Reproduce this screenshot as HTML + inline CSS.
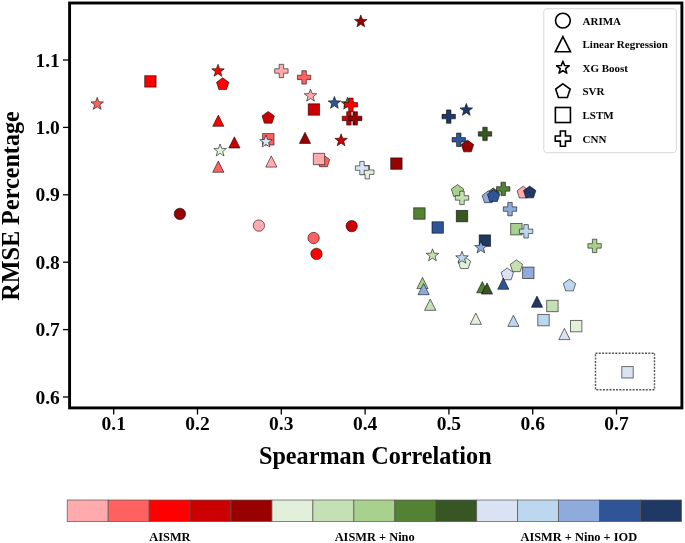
<!DOCTYPE html>
<html><head><meta charset="utf-8"><style>
html,body{margin:0;padding:0;background:#fff;width:685px;height:543px;overflow:hidden}
svg{display:block;filter:blur(0.3px)}
text{font-family:"Liberation Serif", serif;font-weight:bold;fill:#000}
</style></head><body>
<svg width="685" height="543" viewBox="0 0 685 543">
<rect width="685" height="543" fill="#fff"/>

<rect x="595.5" y="353.2" width="59" height="36.6" fill="none" stroke="#555" stroke-width="1.4" stroke-dasharray="2,1.3"/>
<polygon points="97.20,97.40 98.83,101.76 103.48,101.96 99.84,104.86 101.08,109.34 97.20,106.77 93.32,109.34 94.56,104.86 90.92,101.96 95.57,101.76" fill="#ff6161" stroke="rgba(0,0,0,0.62)" stroke-width="0.9" stroke-linejoin="round"/>
<rect x="144.70" y="75.70" width="11.40" height="11.40" fill="#ff0000" stroke="rgba(0,0,0,0.62)" stroke-width="0.9"/>
<circle cx="179.90" cy="213.90" r="5.70" fill="#990000" stroke="rgba(0,0,0,0.62)" stroke-width="0.9"/>
<polygon points="218.00,64.30 219.63,68.66 224.28,68.86 220.64,71.76 221.88,76.24 218.00,73.67 214.12,76.24 215.36,71.76 211.72,68.86 216.37,68.66" fill="#ff0000" stroke="rgba(0,0,0,0.62)" stroke-width="0.9" stroke-linejoin="round"/>
<polygon points="222.70,77.80 228.88,82.29 226.52,89.56 218.88,89.56 216.52,82.29" fill="#ff0000" stroke="rgba(0,0,0,0.62)" stroke-width="0.9"/>
<polygon points="279.17,64.30 283.63,64.30 283.63,68.77 288.10,68.77 288.10,73.23 283.63,73.23 283.63,77.70 279.17,77.70 279.17,73.23 274.70,73.23 274.70,68.77 279.17,68.77" fill="#ffabae" stroke="rgba(0,0,0,0.62)" stroke-width="0.9"/>
<polygon points="301.87,70.70 306.33,70.70 306.33,75.17 310.80,75.17 310.80,79.63 306.33,79.63 306.33,84.10 301.87,84.10 301.87,79.63 297.40,79.63 297.40,75.17 301.87,75.17" fill="#ff6161" stroke="rgba(0,0,0,0.62)" stroke-width="0.9"/>
<polygon points="310.50,89.20 312.13,93.56 316.78,93.76 313.14,96.66 314.38,101.14 310.50,98.57 306.62,101.14 307.86,96.66 304.22,93.76 308.87,93.56" fill="#ffabae" stroke="rgba(0,0,0,0.62)" stroke-width="0.9" stroke-linejoin="round"/>
<rect x="308.20" y="103.80" width="11.40" height="11.40" fill="#cc0000" stroke="rgba(0,0,0,0.62)" stroke-width="0.9"/>
<polygon points="360.80,14.90 362.43,19.26 367.08,19.46 363.44,22.36 364.68,26.84 360.80,24.27 356.92,26.84 358.16,22.36 354.52,19.46 359.17,19.26" fill="#990000" stroke="rgba(0,0,0,0.62)" stroke-width="0.9" stroke-linejoin="round"/>
<polygon points="218.30,115.10 223.90,126.30 212.70,126.30" fill="#ff0000" stroke="rgba(0,0,0,0.62)" stroke-width="0.9" stroke-linejoin="miter"/>
<polygon points="234.40,136.80 240.00,148.00 228.80,148.00" fill="#cc0000" stroke="rgba(0,0,0,0.62)" stroke-width="0.9" stroke-linejoin="miter"/>
<polygon points="218.30,161.10 223.90,172.30 212.70,172.30" fill="#ff6161" stroke="rgba(0,0,0,0.62)" stroke-width="0.9" stroke-linejoin="miter"/>
<polygon points="268.20,111.40 274.38,115.89 272.02,123.16 264.38,123.16 262.02,115.89" fill="#cc0000" stroke="rgba(0,0,0,0.62)" stroke-width="0.9"/>
<rect x="262.60" y="133.60" width="11.40" height="11.40" fill="#ff6161" stroke="rgba(0,0,0,0.62)" stroke-width="0.9"/>
<polygon points="271.30,155.90 276.90,167.10 265.70,167.10" fill="#ffabae" stroke="rgba(0,0,0,0.62)" stroke-width="0.9" stroke-linejoin="miter"/>
<polygon points="305.00,132.20 310.60,143.40 299.40,143.40" fill="#990000" stroke="rgba(0,0,0,0.62)" stroke-width="0.9" stroke-linejoin="miter"/>
<polygon points="341.10,133.80 342.73,138.16 347.38,138.36 343.74,141.26 344.98,145.74 341.10,143.17 337.22,145.74 338.46,141.26 334.82,138.36 339.47,138.16" fill="#cc0000" stroke="rgba(0,0,0,0.62)" stroke-width="0.9" stroke-linejoin="round"/>
<polygon points="323.50,155.00 329.68,159.49 327.32,166.76 319.68,166.76 317.32,159.49" fill="#ff6161" stroke="rgba(0,0,0,0.62)" stroke-width="0.9"/>
<rect x="313.30" y="153.30" width="11.40" height="11.40" fill="#ffabae" stroke="rgba(0,0,0,0.62)" stroke-width="0.9"/>
<rect x="390.70" y="157.90" width="11.40" height="11.40" fill="#990000" stroke="rgba(0,0,0,0.62)" stroke-width="0.9"/>
<circle cx="258.90" cy="225.60" r="5.70" fill="#ffabae" stroke="rgba(0,0,0,0.62)" stroke-width="0.9"/>
<circle cx="313.60" cy="238.00" r="5.70" fill="#ff6161" stroke="rgba(0,0,0,0.62)" stroke-width="0.9"/>
<circle cx="316.50" cy="253.90" r="5.70" fill="#ff0000" stroke="rgba(0,0,0,0.62)" stroke-width="0.9"/>
<circle cx="351.70" cy="226.10" r="5.70" fill="#cc0000" stroke="rgba(0,0,0,0.62)" stroke-width="0.9"/>
<polygon points="220.10,144.00 221.73,148.36 226.38,148.56 222.74,151.46 223.98,155.94 220.10,153.37 216.22,155.94 217.46,151.46 213.82,148.56 218.47,148.36" fill="#e2efda" stroke="rgba(0,0,0,0.62)" stroke-width="0.9" stroke-linejoin="round"/>
<polygon points="266.00,135.10 267.63,139.46 272.28,139.66 268.64,142.56 269.88,147.04 266.00,144.47 262.12,147.04 263.36,142.56 259.72,139.66 264.37,139.46" fill="#dae3f3" stroke="rgba(0,0,0,0.62)" stroke-width="0.9" stroke-linejoin="round"/>
<polygon points="334.40,96.40 336.03,100.76 340.68,100.96 337.04,103.86 338.28,108.34 334.40,105.77 330.52,108.34 331.76,103.86 328.12,100.96 332.77,100.76" fill="#2f5597" stroke="rgba(0,0,0,0.62)" stroke-width="0.9" stroke-linejoin="round"/>
<polygon points="347.50,97.20 349.13,101.56 353.78,101.76 350.14,104.66 351.38,109.14 347.50,106.57 343.62,109.14 344.86,104.66 341.22,101.76 345.87,101.56" fill="#548235" stroke="rgba(0,0,0,0.62)" stroke-width="0.9" stroke-linejoin="round"/>
<polygon points="348.67,98.10 353.13,98.10 353.13,102.57 357.60,102.57 357.60,107.03 353.13,107.03 353.13,111.50 348.67,111.50 348.67,107.03 344.20,107.03 344.20,102.57 348.67,102.57" fill="#ff0000" stroke="rgba(0,0,0,0.62)" stroke-width="0.9"/>
<polygon points="346.67,111.70 351.13,111.70 351.13,116.17 355.60,116.17 355.60,120.63 351.13,120.63 351.13,125.10 346.67,125.10 346.67,120.63 342.20,120.63 342.20,116.17 346.67,116.17" fill="#cc0000" stroke="rgba(0,0,0,0.62)" stroke-width="0.9"/>
<polygon points="352.97,111.70 357.43,111.70 357.43,116.17 361.90,116.17 361.90,120.63 357.43,120.63 357.43,125.10 352.97,125.10 352.97,120.63 348.50,120.63 348.50,116.17 352.97,116.17" fill="#990000" stroke="rgba(0,0,0,0.62)" stroke-width="0.9"/>
<polygon points="365.07,165.50 369.53,165.50 369.53,169.97 374.00,169.97 374.00,174.43 369.53,174.43 369.53,178.90 365.07,178.90 365.07,174.43 360.60,174.43 360.60,169.97 365.07,169.97" fill="#e2efda" stroke="rgba(0,0,0,0.62)" stroke-width="0.9"/>
<polygon points="359.77,161.40 364.23,161.40 364.23,165.87 368.70,165.87 368.70,170.33 364.23,170.33 364.23,174.80 359.77,174.80 359.77,170.33 355.30,170.33 355.30,165.87 359.77,165.87" fill="#dae3f3" stroke="rgba(0,0,0,0.62)" stroke-width="0.9"/>
<polygon points="446.47,109.90 450.93,109.90 450.93,114.37 455.40,114.37 455.40,118.83 450.93,118.83 450.93,123.30 446.47,123.30 446.47,118.83 442.00,118.83 442.00,114.37 446.47,114.37" fill="#203864" stroke="rgba(0,0,0,0.62)" stroke-width="0.9"/>
<polygon points="466.30,103.40 467.93,107.76 472.58,107.96 468.94,110.86 470.18,115.34 466.30,112.77 462.42,115.34 463.66,110.86 460.02,107.96 464.67,107.76" fill="#203864" stroke="rgba(0,0,0,0.62)" stroke-width="0.9" stroke-linejoin="round"/>
<polygon points="456.57,133.10 461.03,133.10 461.03,137.57 465.50,137.57 465.50,142.03 461.03,142.03 461.03,146.50 456.57,146.50 456.57,142.03 452.10,142.03 452.10,137.57 456.57,137.57" fill="#2f5597" stroke="rgba(0,0,0,0.62)" stroke-width="0.9"/>
<polygon points="467.50,140.10 473.68,144.59 471.32,151.86 463.68,151.86 461.32,144.59" fill="#990000" stroke="rgba(0,0,0,0.62)" stroke-width="0.9"/>
<polygon points="482.77,127.20 487.23,127.20 487.23,131.67 491.70,131.67 491.70,136.13 487.23,136.13 487.23,140.60 482.77,140.60 482.77,136.13 478.30,136.13 478.30,131.67 482.77,131.67" fill="#375623" stroke="rgba(0,0,0,0.62)" stroke-width="0.9"/>
<polygon points="457.50,184.60 463.68,189.09 461.32,196.36 453.68,196.36 451.32,189.09" fill="#a9d18e" stroke="rgba(0,0,0,0.62)" stroke-width="0.9"/>
<polygon points="459.77,191.20 464.23,191.20 464.23,195.67 468.70,195.67 468.70,200.13 464.23,200.13 464.23,204.60 459.77,204.60 459.77,200.13 455.30,200.13 455.30,195.67 459.77,195.67" fill="#c5e0b4" stroke="rgba(0,0,0,0.62)" stroke-width="0.9"/>
<rect x="456.30" y="210.40" width="11.40" height="11.40" fill="#375623" stroke="rgba(0,0,0,0.62)" stroke-width="0.9"/>
<rect x="413.70" y="207.80" width="11.40" height="11.40" fill="#548235" stroke="rgba(0,0,0,0.62)" stroke-width="0.9"/>
<rect x="432.00" y="221.80" width="11.40" height="11.40" fill="#2f5597" stroke="rgba(0,0,0,0.62)" stroke-width="0.9"/>
<polygon points="493.20,188.00 499.38,192.49 497.02,199.76 489.38,199.76 487.02,192.49" fill="#548235" stroke="rgba(0,0,0,0.62)" stroke-width="0.9"/>
<polygon points="488.30,190.90 494.48,195.39 492.12,202.66 484.48,202.66 482.12,195.39" fill="#8faadc" stroke="rgba(0,0,0,0.62)" stroke-width="0.9"/>
<polygon points="493.60,189.70 499.78,194.19 497.42,201.46 489.78,201.46 487.42,194.19" fill="#2f5597" stroke="rgba(0,0,0,0.62)" stroke-width="0.9"/>
<polygon points="500.97,182.20 505.43,182.20 505.43,186.67 509.90,186.67 509.90,191.13 505.43,191.13 505.43,195.60 500.97,195.60 500.97,191.13 496.50,191.13 496.50,186.67 500.97,186.67" fill="#548235" stroke="rgba(0,0,0,0.62)" stroke-width="0.9"/>
<polygon points="523.20,186.20 529.38,190.69 527.02,197.96 519.38,197.96 517.02,190.69" fill="#ffabae" stroke="rgba(0,0,0,0.62)" stroke-width="0.9"/>
<polygon points="529.70,186.10 535.88,190.59 533.52,197.86 525.88,197.86 523.52,190.59" fill="#203864" stroke="rgba(0,0,0,0.62)" stroke-width="0.9"/>
<polygon points="507.77,202.40 512.23,202.40 512.23,206.87 516.70,206.87 516.70,211.33 512.23,211.33 512.23,215.80 507.77,215.80 507.77,211.33 503.30,211.33 503.30,206.87 507.77,206.87" fill="#8faadc" stroke="rgba(0,0,0,0.62)" stroke-width="0.9"/>
<rect x="510.70" y="223.50" width="11.40" height="11.40" fill="#a9d18e" stroke="rgba(0,0,0,0.62)" stroke-width="0.9"/>
<polygon points="523.87,224.60 528.33,224.60 528.33,229.07 532.80,229.07 532.80,233.53 528.33,233.53 528.33,238.00 523.87,238.00 523.87,233.53 519.40,233.53 519.40,229.07 523.87,229.07" fill="#bdd7ee" stroke="rgba(0,0,0,0.62)" stroke-width="0.9"/>
<rect x="479.20" y="234.90" width="11.40" height="11.40" fill="#203864" stroke="rgba(0,0,0,0.62)" stroke-width="0.9"/>
<polygon points="480.90,241.00 482.53,245.36 487.18,245.56 483.54,248.46 484.78,252.94 480.90,250.37 477.02,252.94 478.26,248.46 474.62,245.56 479.27,245.36" fill="#8faadc" stroke="rgba(0,0,0,0.62)" stroke-width="0.9" stroke-linejoin="round"/>
<polygon points="432.50,248.80 434.13,253.16 438.78,253.36 435.14,256.26 436.38,260.74 432.50,258.17 428.62,260.74 429.86,256.26 426.22,253.36 430.87,253.16" fill="#c5e0b4" stroke="rgba(0,0,0,0.62)" stroke-width="0.9" stroke-linejoin="round"/>
<polygon points="464.40,256.80 470.58,261.29 468.22,268.56 460.58,268.56 458.22,261.29" fill="#e2efda" stroke="rgba(0,0,0,0.62)" stroke-width="0.9"/>
<polygon points="462.00,251.30 463.63,255.66 468.28,255.86 464.64,258.76 465.88,263.24 462.00,260.67 458.12,263.24 459.36,258.76 455.72,255.86 460.37,255.66" fill="#bdd7ee" stroke="rgba(0,0,0,0.62)" stroke-width="0.9" stroke-linejoin="round"/>
<polygon points="592.37,239.20 596.83,239.20 596.83,243.67 601.30,243.67 601.30,248.13 596.83,248.13 596.83,252.60 592.37,252.60 592.37,248.13 587.90,248.13 587.90,243.67 592.37,243.67" fill="#a9d18e" stroke="rgba(0,0,0,0.62)" stroke-width="0.9"/>
<polygon points="516.40,259.90 522.58,264.39 520.22,271.66 512.58,271.66 510.22,264.39" fill="#c5e0b4" stroke="rgba(0,0,0,0.62)" stroke-width="0.9"/>
<rect x="522.60" y="267.10" width="11.40" height="11.40" fill="#8faadc" stroke="rgba(0,0,0,0.62)" stroke-width="0.9"/>
<polygon points="507.30,268.00 513.48,272.49 511.12,279.76 503.48,279.76 501.12,272.49" fill="#dae3f3" stroke="rgba(0,0,0,0.62)" stroke-width="0.9"/>
<polygon points="503.30,278.10 508.90,289.30 497.70,289.30" fill="#2f5597" stroke="rgba(0,0,0,0.62)" stroke-width="0.9" stroke-linejoin="miter"/>
<polygon points="569.50,279.10 575.68,283.59 573.32,290.86 565.68,290.86 563.32,283.59" fill="#bdd7ee" stroke="rgba(0,0,0,0.62)" stroke-width="0.9"/>
<polygon points="537.00,296.10 542.60,307.30 531.40,307.30" fill="#203864" stroke="rgba(0,0,0,0.62)" stroke-width="0.9" stroke-linejoin="miter"/>
<rect x="546.70" y="300.30" width="11.40" height="11.40" fill="#c5e0b4" stroke="rgba(0,0,0,0.62)" stroke-width="0.9"/>
<polygon points="513.40,315.20 519.00,326.40 507.80,326.40" fill="#bdd7ee" stroke="rgba(0,0,0,0.62)" stroke-width="0.9" stroke-linejoin="miter"/>
<rect x="537.80" y="314.40" width="11.40" height="11.40" fill="#bdd7ee" stroke="rgba(0,0,0,0.62)" stroke-width="0.9"/>
<rect x="570.50" y="320.40" width="11.40" height="11.40" fill="#e2efda" stroke="rgba(0,0,0,0.62)" stroke-width="0.9"/>
<polygon points="564.40,328.40 570.00,339.60 558.80,339.60" fill="#dae3f3" stroke="rgba(0,0,0,0.62)" stroke-width="0.9" stroke-linejoin="miter"/>
<polygon points="422.50,277.40 428.10,288.60 416.90,288.60" fill="#a9d18e" stroke="rgba(0,0,0,0.62)" stroke-width="0.9" stroke-linejoin="miter"/>
<polygon points="423.60,283.50 429.20,294.70 418.00,294.70" fill="#8faadc" stroke="rgba(0,0,0,0.62)" stroke-width="0.9" stroke-linejoin="miter"/>
<polygon points="430.20,299.10 435.80,310.30 424.60,310.30" fill="#c5e0b4" stroke="rgba(0,0,0,0.62)" stroke-width="0.9" stroke-linejoin="miter"/>
<polygon points="475.80,313.10 481.40,324.30 470.20,324.30" fill="#e2efda" stroke="rgba(0,0,0,0.62)" stroke-width="0.9" stroke-linejoin="miter"/>
<polygon points="482.30,281.60 487.90,292.80 476.70,292.80" fill="#548235" stroke="rgba(0,0,0,0.62)" stroke-width="0.9" stroke-linejoin="miter"/>
<polygon points="487.00,282.90 492.60,294.10 481.40,294.10" fill="#375623" stroke="rgba(0,0,0,0.62)" stroke-width="0.9" stroke-linejoin="miter"/>
<rect x="621.80" y="366.60" width="11.40" height="11.40" fill="#dae3f3" stroke="rgba(0,0,0,0.62)" stroke-width="0.9"/>
<rect x="543.8" y="8.7" width="132.5" height="144" rx="3" fill="#fff" fill-opacity="0.8" stroke="#d8d8d8" stroke-width="1"/>
<circle cx="562.90" cy="20.60" r="7.41" fill="none" stroke="#000" stroke-width="1.6"/>
<text x="582.5" y="24.5" font-size="11">ARIMA</text>
<polygon points="562.90,36.58 570.52,51.82 555.28,51.82" fill="none" stroke="#000" stroke-width="1.6" stroke-linejoin="miter"/>
<text x="582.5" y="48.1" font-size="11">Linear Regression</text>
<polygon points="562.90,61.20 564.53,65.56 569.18,65.76 565.54,68.66 566.78,73.14 562.90,70.57 559.02,73.14 560.26,68.66 556.62,65.76 561.27,65.56" fill="none" stroke="#000" stroke-width="1.6" stroke-linejoin="round"/>
<text x="582.5" y="71.7" font-size="11">XG Boost</text>
<polygon points="562.90,83.80 570.13,89.05 567.37,97.55 558.43,97.55 555.67,89.05" fill="none" stroke="#000" stroke-width="1.6"/>
<text x="582.5" y="95.3" font-size="11">SVR</text>
<rect x="555.38" y="107.48" width="15.05" height="15.05" fill="none" stroke="#000" stroke-width="1.6"/>
<text x="582.5" y="118.9" font-size="11">LSTM</text>
<polygon points="560.35,130.96 565.45,130.96 565.45,136.05 570.54,136.05 570.54,141.15 565.45,141.15 565.45,146.24 560.35,146.24 560.35,141.15 555.26,141.15 555.26,136.05 560.35,136.05" fill="none" stroke="#000" stroke-width="1.6"/>
<text x="582.5" y="142.5" font-size="11">CNN</text>
<rect x="69.6" y="3.0" width="612.3" height="404.9" fill="none" stroke="#000" stroke-width="2.9"/>
<line x1="63" y1="397.00" x2="69" y2="397.00" stroke="#000" stroke-width="1.3"/>
<text x="59.8" y="403.60" font-size="19.5" text-anchor="end">0.6</text>
<line x1="63" y1="329.60" x2="69" y2="329.60" stroke="#000" stroke-width="1.3"/>
<text x="59.8" y="336.20" font-size="19.5" text-anchor="end">0.7</text>
<line x1="63" y1="262.20" x2="69" y2="262.20" stroke="#000" stroke-width="1.3"/>
<text x="59.8" y="268.80" font-size="19.5" text-anchor="end">0.8</text>
<line x1="63" y1="194.80" x2="69" y2="194.80" stroke="#000" stroke-width="1.3"/>
<text x="59.8" y="201.40" font-size="19.5" text-anchor="end">0.9</text>
<line x1="63" y1="127.40" x2="69" y2="127.40" stroke="#000" stroke-width="1.3"/>
<text x="59.8" y="134.00" font-size="19.5" text-anchor="end">1.0</text>
<line x1="63" y1="60.00" x2="69" y2="60.00" stroke="#000" stroke-width="1.3"/>
<text x="59.8" y="66.60" font-size="19.5" text-anchor="end">1.1</text>
<line x1="113.70" y1="409" x2="113.70" y2="414.5" stroke="#000" stroke-width="1.3"/>
<text x="113.70" y="430" font-size="19.5" text-anchor="middle">0.1</text>
<line x1="197.50" y1="409" x2="197.50" y2="414.5" stroke="#000" stroke-width="1.3"/>
<text x="197.50" y="430" font-size="19.5" text-anchor="middle">0.2</text>
<line x1="281.30" y1="409" x2="281.30" y2="414.5" stroke="#000" stroke-width="1.3"/>
<text x="281.30" y="430" font-size="19.5" text-anchor="middle">0.3</text>
<line x1="365.10" y1="409" x2="365.10" y2="414.5" stroke="#000" stroke-width="1.3"/>
<text x="365.10" y="430" font-size="19.5" text-anchor="middle">0.4</text>
<line x1="448.90" y1="409" x2="448.90" y2="414.5" stroke="#000" stroke-width="1.3"/>
<text x="448.90" y="430" font-size="19.5" text-anchor="middle">0.5</text>
<line x1="532.70" y1="409" x2="532.70" y2="414.5" stroke="#000" stroke-width="1.3"/>
<text x="532.70" y="430" font-size="19.5" text-anchor="middle">0.6</text>
<line x1="616.50" y1="409" x2="616.50" y2="414.5" stroke="#000" stroke-width="1.3"/>
<text x="616.50" y="430" font-size="19.5" text-anchor="middle">0.7</text>
<text x="375.3" y="463.6" font-size="24.2" text-anchor="middle">Spearman Correlation</text>
<text transform="translate(19.4,206) rotate(-90)" font-size="24.2" text-anchor="middle">RMSE Percentage</text>
<rect x="67.20" y="500" width="40.95" height="21.6" fill="#ffabae" stroke="#555" stroke-width="0.7"/>
<rect x="108.15" y="500" width="40.95" height="21.6" fill="#ff6161" stroke="#555" stroke-width="0.7"/>
<rect x="149.11" y="500" width="40.95" height="21.6" fill="#ff0000" stroke="#555" stroke-width="0.7"/>
<rect x="190.06" y="500" width="40.95" height="21.6" fill="#cc0000" stroke="#555" stroke-width="0.7"/>
<rect x="231.01" y="500" width="40.95" height="21.6" fill="#990000" stroke="#555" stroke-width="0.7"/>
<rect x="271.97" y="500" width="40.95" height="21.6" fill="#e2efda" stroke="#555" stroke-width="0.7"/>
<rect x="312.92" y="500" width="40.95" height="21.6" fill="#c5e0b4" stroke="#555" stroke-width="0.7"/>
<rect x="353.87" y="500" width="40.95" height="21.6" fill="#a9d18e" stroke="#555" stroke-width="0.7"/>
<rect x="394.83" y="500" width="40.95" height="21.6" fill="#548235" stroke="#555" stroke-width="0.7"/>
<rect x="435.78" y="500" width="40.95" height="21.6" fill="#375623" stroke="#555" stroke-width="0.7"/>
<rect x="476.73" y="500" width="40.95" height="21.6" fill="#dae3f3" stroke="#555" stroke-width="0.7"/>
<rect x="517.69" y="500" width="40.95" height="21.6" fill="#bdd7ee" stroke="#555" stroke-width="0.7"/>
<rect x="558.64" y="500" width="40.95" height="21.6" fill="#8faadc" stroke="#555" stroke-width="0.7"/>
<rect x="599.59" y="500" width="40.95" height="21.6" fill="#2f5597" stroke="#555" stroke-width="0.7"/>
<rect x="640.55" y="500" width="40.95" height="21.6" fill="#203864" stroke="#555" stroke-width="0.7"/>
<text x="169.9" y="541" font-size="12.4" text-anchor="middle">AISMR</text>
<text x="374.7" y="541" font-size="12.4" text-anchor="middle">AISMR + Nino</text>
<text x="578.8" y="541" font-size="12.4" text-anchor="middle">AISMR + Nino + IOD</text>
</svg></body></html>
